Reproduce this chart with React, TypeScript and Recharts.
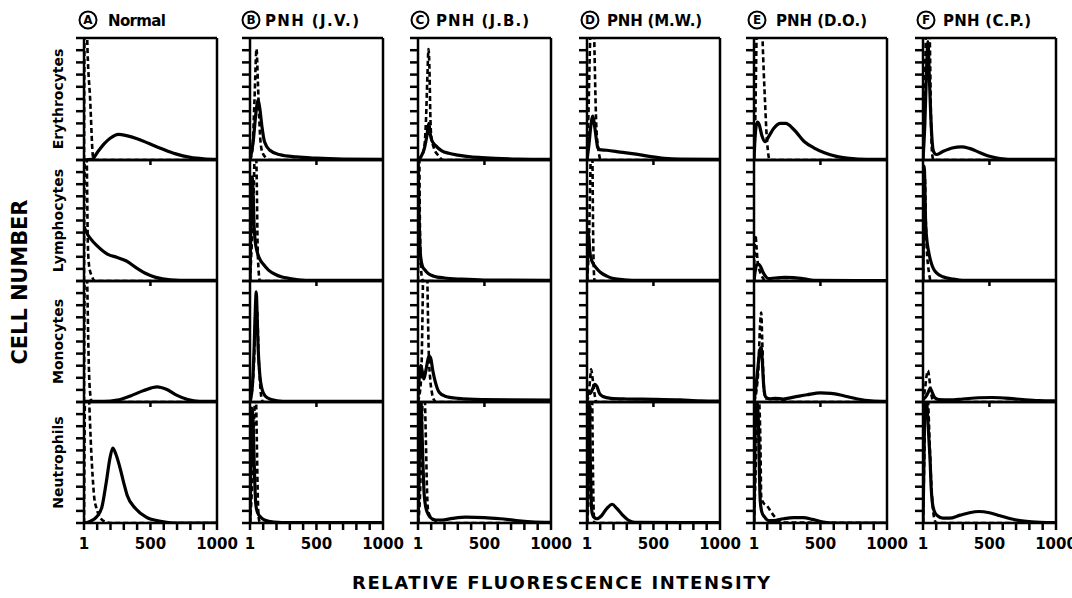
import { LineChart, Line, XAxis, YAxis, ReferenceLine } from "recharts";

type Pt = [number, number];

const letters = ["A", "B", "C", "D", "E", "F"];
const subjects = ["Normal", "PNH (J.V.)", "PNH (J.B.)", "PNH (M.W.)", "PNH (D.O.)", "PNH (C.P.)"];
const cellTypes = ["Erythrocytes", "Lymphocytes", "Monocytes", "Neutrophils"];
const xTicks = [1, 100, 200, 300, 400, 500, 600, 700, 800, 900, 1000];
const xLabels: Record<number, string> = { 1: "1", 500: "500", 1000: "1000" };
const yTicks = [0, 1, 2, 3, 4, 5, 6, 7, 8, 9, 10];

// A - Normal (solid = stained, dashed = control)
const aEryS: Pt[] = [[1, 0], [60, 0.05], [100, 0.6], [150, 1.3], [200, 1.8], [260, 2.1], [320, 2.0], [400, 1.75], [490, 1.35], [580, 0.95], [690, 0.5], [800, 0.22], [900, 0.1], [1000, 0.05]];
const aEryD: Pt[] = [[1, 0], [10, 20], [25, 10], [47, 5], [70, 0.2], [90, 0], [1000, 0]];
const aLymS: Pt[] = [[1, 4.5], [20, 4.0], [50, 3.5], [100, 2.9], [180, 2.2], [250, 1.95], [320, 1.65], [400, 1.05], [470, 0.6], [540, 0.3], [650, 0.1], [800, 0.05], [1000, 0.05]];
const aLymD: Pt[] = [[1, 0], [10, 16], [22, 10], [30, 3], [40, 1.2], [60, 0.4], [85, 0], [1000, 0]];
const aMonS: Pt[] = [[1, 0.05], [150, 0.05], [250, 0.15], [350, 0.5], [450, 0.95], [550, 1.25], [620, 1.05], [700, 0.55], [780, 0.2], [870, 0.05], [1000, 0.05]];
const aMonD: Pt[] = [[1, 0], [10, 16], [25, 10], [35, 4], [45, 1], [60, 0], [1000, 0]];
const aNeuS: Pt[] = [[1, 0], [50, 0.15], [95, 0.5], [135, 1.3], [170, 3.5], [195, 5.3], [217, 6.2], [240, 5.7], [273, 4.5], [300, 3.3], [325, 2.3], [388, 1.2], [465, 0.5], [565, 0.15], [670, 0], [1000, 0]];
const aNeuD: Pt[] = [[1, 0], [15, 16], [40, 10], [55, 6], [65, 4], [77, 2.2], [95, 1.2], [120, 0.5], [160, 0.1], [200, 0], [1000, 0]];

// B - PNH (J.V.)
const bEryS: Pt[] = [[1, 0], [25, 1.5], [45, 3.8], [62, 4.9], [75, 4.2], [90, 2.8], [110, 1.5], [150, 0.8], [220, 0.45], [350, 0.25], [500, 0.15], [700, 0.08], [1000, 0.05]];
const bEryD: Pt[] = [[1, 0], [20, 1], [35, 5], [50, 9.1], [60, 6.5], [70, 3.5], [80, 1.5], [95, 0.6], [120, 0.2], [140, 0], [1000, 0]];
const bLymS: Pt[] = [[1, 0], [8, 5], [18, 8.6], [25, 7], [32, 4.5], [40, 3.3], [55, 2.4], [75, 1.8], [100, 1.4], [140, 0.9], [200, 0.5], [300, 0.2], [420, 0.05], [1000, 0.05]];
const bLymD: Pt[] = [[1, 0], [25, 6], [42, 12], [52, 8], [58, 3], [65, 1], [75, 0], [1000, 0]];
const bMonS: Pt[] = [[1, 0], [20, 1.5], [32, 4.5], [42, 8], [48, 9.1], [55, 7], [62, 4.5], [75, 2.2], [90, 1.1], [115, 0.5], [160, 0.2], [250, 0.05], [1000, 0.05]];
const bMonD: Pt[] = [[1, 0], [30, 3], [45, 8], [55, 7.5], [65, 4], [75, 1.8], [85, 0.5], [100, 0], [1000, 0]];
const bNeuS: Pt[] = [[1, 0], [8, 5], [15, 9.5], [22, 9], [30, 6], [38, 3], [45, 1.5], [60, 0.8], [80, 0.5], [110, 0.25], [180, 0.08], [300, 0.03], [1000, 0.03]];
const bNeuD: Pt[] = [[1, 0], [20, 4], [35, 9.5], [45, 10.5], [52, 7], [58, 3], [63, 1], [70, 0.2], [80, 0], [1000, 0]];

// C - PNH (J.B.)
const cEryS: Pt[] = [[1, 0], [25, 0.3], [50, 1.0], [68, 2.0], [82, 3.0], [92, 2.2], [105, 1.6], [132, 1.2], [180, 0.75], [232, 0.55], [300, 0.4], [380, 0.28], [480, 0.2], [580, 0.14], [750, 0.08], [1000, 0.05]];
const cEryD: Pt[] = [[1, 0], [45, 0.8], [60, 3], [72, 7], [80, 9.1], [88, 7], [93, 4], [100, 2], [120, 1], [155, 0.35], [190, 0], [1000, 0]];
const cLymS: Pt[] = [[1, 10], [5, 8], [10, 5], [15, 3], [22, 1.9], [35, 1.2], [50, 0.95], [80, 0.6], [120, 0.4], [200, 0.25], [330, 0.15], [500, 0.08], [1000, 0.05]];
const cLymD: Pt[] = [[1, 0], [5, 10], [10, 11], [15, 5], [22, 1.5], [30, 0.3], [40, 0], [1000, 0]];
const cMonS: Pt[] = [[1, 0.3], [10, 2], [22, 3.0], [30, 2.7], [45, 1.9], [60, 2.6], [85, 3.8], [97, 3.6], [112, 2.6], [130, 1.7], [160, 0.8], [200, 0.5], [300, 0.3], [480, 0.2], [1000, 0.15]];
const cMonD: Pt[] = [[1, 0], [25, 2], [33, 6], [40, 11], [55, 15], [70, 11], [76, 7], [82, 4], [92, 2], [105, 0.8], [120, 0.2], [140, 0], [1000, 0]];
const cNeuS: Pt[] = [[1, 0], [8, 3], [15, 8], [22, 10.5], [30, 8], [38, 5], [45, 2.8], [55, 1.6], [70, 0.9], [90, 0.5], [130, 0.25], [180, 0.25], [260, 0.38], [360, 0.48], [500, 0.45], [620, 0.35], [740, 0.2], [850, 0.1], [1000, 0.05]];
const cNeuD: Pt[] = [[1, 0], [15, 2], [30, 8], [40, 12], [50, 11], [60, 7], [68, 3], [75, 1.2], [90, 0.6], [120, 0.3], [160, 0], [1000, 0]];

// D - PNH (M.W.)
const dEryS: Pt[] = [[1, 0], [15, 1.2], [30, 2.8], [45, 3.6], [58, 2.8], [70, 1.8], [82, 1.0], [95, 0.85], [150, 0.8], [250, 0.65], [370, 0.48], [480, 0.28], [580, 0.14], [700, 0.07], [1000, 0.05]];
const dEryD: Pt[] = [[1, 0], [10, 3], [25, 10], [40, 14], [55, 10], [65, 5], [72, 2.5], [85, 1], [105, 0], [1000, 0]];
const dLymS: Pt[] = [[1, 0], [5, 2.5], [10, 4.0], [15, 3.5], [25, 2.2], [40, 1.6], [55, 1.3], [80, 0.95], [110, 0.65], [150, 0.4], [200, 0.2], [280, 0.1], [400, 0.05], [1000, 0.05]];
const dLymD: Pt[] = [[1, 0], [15, 3], [28, 10], [35, 14], [42, 10], [47, 4], [52, 1], [58, 0], [1000, 0]];
const dMonS: Pt[] = [[1, 0.3], [10, 0.8], [25, 0.7], [40, 1.0], [60, 1.45], [75, 1.3], [95, 0.7], [120, 0.45], [180, 0.3], [300, 0.25], [500, 0.22], [700, 0.17], [850, 0.1], [1000, 0.08]];
const dMonD: Pt[] = [[1, 0], [15, 0.8], [25, 2.0], [32, 2.7], [40, 2.2], [50, 1.3], [60, 0.5], [70, 0], [1000, 0]];
const dNeuS: Pt[] = [[1, 0], [8, 6], [14, 10.5], [20, 9], [26, 5], [32, 2], [40, 0.8], [55, 0.45], [75, 0.35], [110, 0.6], [150, 1.2], [190, 1.55], [225, 1.2], [265, 0.7], [310, 0.25], [360, 0.05], [1000, 0.03]];
const dNeuD: Pt[] = [[1, 0], [15, 3], [25, 9], [32, 12], [40, 10], [45, 5], [50, 1.5], [56, 0], [1000, 0]];

// E - PNH (D.O.)
const eEryS: Pt[] = [[1, 0], [10, 2], [25, 3.1], [40, 2.9], [60, 2.0], [85, 1.5], [110, 1.9], [150, 2.6], [200, 3.0], [240, 3.0], [300, 2.5], [380, 1.5], [450, 1.0], [530, 0.6], [620, 0.3], [720, 0.14], [850, 0.06], [1000, 0.05]];
const eEryD: Pt[] = [[1, 0], [10, 3], [20, 10], [35, 16], [55, 14], [65, 10], [75, 7], [85, 4.5], [95, 2.2], [105, 0.8], [115, 0.1], [125, 0], [1000, 0]];
const eLymS: Pt[] = [[1, 0], [10, 0.8], [20, 1.3], [35, 1.4], [50, 1.2], [70, 0.7], [90, 0.35], [110, 0.2], [160, 0.25], [230, 0.3], [300, 0.28], [380, 0.18], [450, 0.05], [1000, 0.03]];
const eLymD: Pt[] = [[1, 0], [5, 2.5], [12, 3.8], [20, 2.8], [30, 1.4], [45, 0.8], [55, 0.5], [70, 0.2], [85, 0], [1000, 0]];
const eMonS: Pt[] = [[1, 0], [15, 1.2], [30, 2.8], [45, 4.3], [55, 4.5], [63, 3.5], [70, 2.0], [78, 0.9], [90, 0.4], [120, 0.25], [160, 0.3], [220, 0.25], [300, 0.4], [400, 0.6], [500, 0.75], [580, 0.72], [680, 0.5], [780, 0.25], [880, 0.1], [1000, 0.05]];
const eMonD: Pt[] = [[1, 0], [20, 1], [35, 3], [45, 6], [55, 7.4], [63, 5], [70, 2.5], [78, 0.8], [90, 0.3], [150, 0.25], [200, 0.2], [250, 0], [1000, 0]];
const eNeuS: Pt[] = [[1, 0], [8, 6], [15, 10.5], [25, 10], [35, 8], [42, 4], [48, 1.8], [60, 0.9], [80, 0.5], [110, 0.2], [150, 0.2], [220, 0.35], [300, 0.45], [370, 0.45], [440, 0.3], [520, 0.08], [600, 0], [1000, 0]];
const eNeuD: Pt[] = [[1, 0], [15, 5], [28, 10.5], [40, 10], [50, 6], [55, 2.2], [70, 1.7], [100, 1.4], [125, 1.0], [150, 0.6], [175, 0.3], [200, 0.05], [1000, 0]];

// F - PNH (C.P.)
const fEryS: Pt[] = [[1, 0], [15, 3], [28, 7.5], [38, 9.7], [48, 7], [58, 4], [68, 1.8], [80, 0.7], [100, 0.45], [150, 0.7], [220, 0.98], [290, 1.08], [350, 0.95], [430, 0.6], [500, 0.3], [580, 0.12], [700, 0.05], [1000, 0.05]];
const fEryD: Pt[] = [[1, 0], [12, 4], [22, 10], [35, 13], [48, 12], [55, 8], [60, 4], [65, 1.5], [72, 0.3], [80, 0], [1000, 0]];
const fLymS: Pt[] = [[1, 0], [5, 6], [10, 9.5], [15, 8], [20, 5], [28, 3.6], [42, 2.5], [60, 1.6], [80, 1.0], [105, 0.65], [150, 0.35], [230, 0.15], [300, 0.05], [1000, 0.05]];
const fLymD: Pt[] = [[1, 0], [8, 6], [15, 8.5], [22, 5], [30, 2.5], [40, 1.2], [50, 0.4], [58, 0], [1000, 0]];
const fMonS: Pt[] = [[1, 0.2], [20, 0.4], [40, 0.8], [55, 1.15], [70, 0.8], [90, 0.35], [120, 0.2], [200, 0.18], [300, 0.25], [420, 0.35], [520, 0.37], [620, 0.32], [750, 0.2], [870, 0.12], [1000, 0.1]];
const fMonD: Pt[] = [[1, 0], [15, 1], [30, 2.3], [38, 2.6], [48, 2], [58, 1], [68, 0.4], [80, 0], [1000, 0]];
const fNeuS: Pt[] = [[1, 0], [8, 5], [15, 9.5], [25, 10.5], [35, 9], [45, 7], [55, 5], [62, 3], [70, 1.8], [85, 1.0], [110, 0.6], [150, 0.4], [200, 0.4], [280, 0.65], [350, 0.85], [420, 0.95], [500, 0.85], [580, 0.6], [660, 0.35], [760, 0.15], [880, 0.05], [1000, 0.03]];
const fNeuD: Pt[] = [[1, 0], [10, 5], [20, 11], [30, 12], [40, 10], [48, 7.5], [55, 5.5], [62, 3.5], [70, 2], [78, 0.9], [88, 0.3], [100, 0], [1000, 0]];

// [column][row] -> [solid, dashed]
const grid: Pt[][][] = [
  [aEryS, aEryD], [aLymS, aLymD], [aMonS, aMonD], [aNeuS, aNeuD],
  [bEryS, bEryD], [bLymS, bLymD], [bMonS, bMonD], [bNeuS, bNeuD],
  [cEryS, cEryD], [cLymS, cLymD], [cMonS, cMonD], [cNeuS, cNeuD],
  [dEryS, dEryD], [dLymS, dLymD], [dMonS, dMonD], [dNeuS, dNeuD],
  [eEryS, eEryD], [eLymS, eLymD], [eMonS, eMonD], [eNeuS, eNeuD],
  [fEryS, fEryD], [fLymS, fLymD], [fMonS, fMonD], [fNeuS, fNeuD],
];

const FONT = "'DejaVu Sans', sans-serif";
const colLeft = [84, 250, 418, 587, 754, 923];
const rowTop = [38, 160, 281, 402];
const rowH = [122, 121, 121, 121];
const W = 133;
const PAD_L = 12;
const PAD_T = 4;
const PAD_R = 24;

const toObj = (pts: Pt[]) => pts.map(([x, y]) => ({ x, y }));

function Panel({ col, row }: { col: number; row: number }) {
  const [solid, dashed] = grid[col * 4 + row];
  const isBottom = row === 3;
  const h = rowH[row];
  const padB = isBottom ? 34 : 8;
  return (
    <div style={{ position: "absolute", left: colLeft[col] - PAD_L, top: rowTop[row] - PAD_T }}>
      <LineChart
        width={W + PAD_L + PAD_R}
        height={h + PAD_T + padB}
        margin={{ top: PAD_T, right: PAD_R, left: 0, bottom: 0 }}
      >
        <XAxis
          type="number"
          dataKey="x"
          domain={[1, 1000]}
          allowDataOverflow
          ticks={isBottom ? xTicks : [500]}
          interval={0}
          height={padB}
          tickSize={isBottom ? 7 : 5}
          tickMargin={8}
          axisLine={{ stroke: "#000", strokeWidth: 2.5 }}
          tickLine={{ stroke: "#000", strokeWidth: 2.5 }}
          tick={{ fill: "#000", fontSize: 15, fontWeight: "bold", fontFamily: FONT }}
          tickFormatter={(v: number) => (isBottom ? xLabels[v] ?? "" : "")}
        />
        <YAxis
          type="number"
          domain={[0, 10]}
          allowDataOverflow
          ticks={yTicks}
          interval={0}
          width={PAD_L}
          tickSize={8}
          axisLine={{ stroke: "#000", strokeWidth: 2.5 }}
          tickLine={{ stroke: "#000", strokeWidth: 2.5 }}
          tickFormatter={() => ""}
        />
        <ReferenceLine y={10} stroke="#000" strokeWidth={2.5} />
        <ReferenceLine x={1000} stroke="#000" strokeWidth={2.5} />
        <Line
          data={toObj(dashed)}
          dataKey="y"
          type="monotone"
          stroke="#000"
          strokeWidth={2.6}
          strokeDasharray="5 3"
          dot={false}
          isAnimationActive={false}
        />
        <Line
          data={toObj(solid)}
          dataKey="y"
          type="monotone"
          stroke="#000"
          strokeWidth={3.2}
          dot={false}
          isAnimationActive={false}
        />
      </LineChart>
    </div>
  );
}

export default function App() {
  const titleX = [108, 265, 436, 607, 776, 943];
  const titleW = [58, 94, 93, 95, 91, 88];
  const circleX = [88, 251, 420, 590, 757, 926];
  return (
    <div style={{ position: "absolute", left: 0, top: 0, width: 1072, height: 598, background: "#fff" }}>
      {letters.map((_, c) =>
        cellTypes.map((__, r) => <Panel key={`${c}-${r}`} col={c} row={r} />)
      )}
      <svg
        width={1072}
        height={598}
        style={{ position: "absolute", left: 0, top: 0, pointerEvents: "none" }}
        fontFamily={FONT}
        fontWeight="bold"
      >
        {letters.map((l, c) => (
          <g key={l}>
            <circle cx={circleX[c]} cy={20} r={8.5} fill="none" stroke="#000" strokeWidth={2} />
            <text x={circleX[c]} y={20} textAnchor="middle" dominantBaseline="central" fontSize={12}>
              {l}
            </text>
            <text x={titleX[c]} y={25.5} fontSize={15} textLength={titleW[c]} lengthAdjust="spacing">
              {subjects[c]}
            </text>
          </g>
        ))}
        {cellTypes.map((t, r) => (
          <text
            key={t}
            transform={`translate(58 ${rowTop[r] + rowH[r] / 2}) rotate(-90)`}
            textAnchor="middle"
            dominantBaseline="central"
            fontSize={14}
          >
            {t}
          </text>
        ))}
        <text
          transform="translate(20 282) rotate(-90)"
          textAnchor="middle"
          dominantBaseline="central"
          fontSize={21}
          textLength={165}
          lengthAdjust="spacing"
        >
          CELL NUMBER
        </text>
        <text x={352} y={589} fontSize={18} textLength={418} lengthAdjust="spacing">
          RELATIVE FLUORESCENCE INTENSITY
        </text>
      </svg>
    </div>
  );
}
